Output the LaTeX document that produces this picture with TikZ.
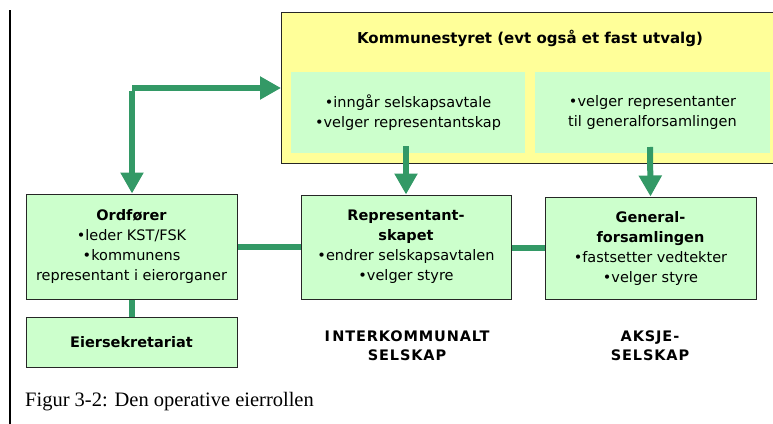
\documentclass[tikz,border=0pt]{standalone}
\usepackage{fontspec}
\setmainfont{Liberation Serif}
\newfontfamily\boxfont{DejaVu Sans}
\newfontfamily\lblfont[LetterSpace=6]{DejaVu Sans}
\usetikzlibrary{arrows.meta}
\definecolor{boxgreen}{HTML}{CCFFCC}
\definecolor{boxyellow}{HTML}{FFFF99}
\definecolor{arrowgreen}{HTML}{339966}
\begin{document}
\begin{tikzpicture}[x=1pt,y=-1pt,
  gbox/.style={draw=black!85,line width=1pt,fill=boxgreen,minimum width=#1,inner sep=0pt,align=center,
    font=\boxfont\fontsize{14.5}{20}\selectfont},
  gbox/.default=211pt,
  inbox/.style={fill=boxgreen,inner sep=0pt,align=center,font=\boxfont\fontsize{14.5}{20}\selectfont},
  conn/.style={draw=arrowgreen,line width=6pt},
  arr/.style={conn,-{Triangle[width=22pt,length=21pt]}},
  lbl/.style={font=\lblfont\bfseries\fontsize{14.5}{19}\selectfont,align=center}]
\useasboundingbox (0,0) rectangle (773,423);
\clip (0,0) rectangle (773,423);
\fill[white] (0,0) rectangle (773,423);
% left rule
\draw[line width=2pt] (10,10) -- (10,424);
% yellow box
\fill[boxyellow] (281,12) rectangle (780,163);
\draw[black!85,line width=1pt] (780,12) -- (281,12) -- (281,163) -- (780,163);
\node[font=\boxfont\bfseries\fontsize{15}{18}\selectfont] (kst) at (530,38) {Kommunestyret (evt også et fast utvalg)};
\node[inbox,minimum width=234pt,minimum height=81pt] (in1) at (408,112.5) {•inngår selskapsavtale\\•velger representantskap};
\node[inbox,minimum width=235pt,minimum height=81pt] (in2) at (652.5,112.5) {•velger representanter\\til generalforsamlingen};
% lower boxes
\node[gbox,minimum height=105pt] (ord) at (131.5,246.5) {\textbf{Ordfører}\\•leder KST/FSK\\•kommunens\\representant i eierorganer};
\node[gbox,minimum height=50pt] (eier) at (131.5,342) {\textbf{Eiersekretariat}};
\node[gbox=210pt,minimum height=104pt] (rep) at (406,247) {\textbf{Representant-}\\\textbf{skapet}\\•endrer selskapsavtalen\\•velger styre};
\node[gbox,minimum height=102pt] (gen) at (650.5,248) {\textbf{General-}\\\textbf{forsamlingen}\\•fastsetter vedtekter\\•velger styre};
% labels
\node[lbl] (iks) at (407,345.5) {I\,NTERKOMMUNALT\\SELSKAP};
\node[lbl] (as) at (650,345.5) {AKSJE-\\SELSKAP};
\node[anchor=base west,font=\fontsize{20.5}{24}\selectfont,inner sep=0pt] (cap) at (25,406) {Figur 3-2: Den operative eierrollen};
% connectors
\coordinate (corner) at (132,88);
\draw[arr] (corner) -- (281,88);
\draw[arr] ([yshift=-3pt]corner) -- (ord.north -| corner);
\draw[arr] (406,146) -- (rep.north);
\draw[arr] (650,147) -- (gen.north);
\draw[conn] (ord.east |- 0,247) -- (rep.west |- 0,247);
\draw[conn] (rep.east |- 0,248) -- (gen.west |- 0,248);
\draw[conn] (ord.south -| corner) -- (eier.north -| corner);
\end{tikzpicture}
\end{document}
